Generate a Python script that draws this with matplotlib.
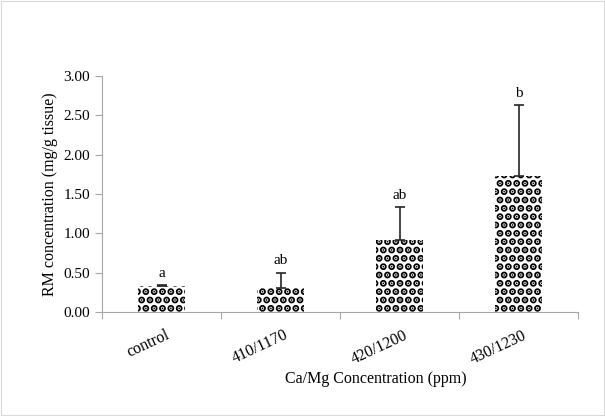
import matplotlib
matplotlib.use("Agg")
import matplotlib.pyplot as plt
from matplotlib.patches import Rectangle

categories = ["control", "410/1170", "420/1200", "430/1230"]
values = [0.33, 0.30, 0.91, 1.73]
errors = [0.01, 0.20, 0.42, 0.90]
letters = ["a", "ab", "ab", "b"]

plt.rcParams['font.family'] = ['Liberation Serif', 'DejaVu Serif']
plt.rcParams['hatch.linewidth'] = 3.6

fig = plt.figure(figsize=(6.05, 4.16), dpi=100)
fig.patches.append(Rectangle((0.002, 0.002), 0.996, 0.996, transform=fig.transFigure,
                             fill=False, edgecolor='#d9d9d9', linewidth=0.8))
ax = fig.add_axes([0.1686, 0.25, 0.7868, 0.567])

x = list(range(len(categories)))
bars = ax.bar(x, values, width=0.40, color='white', edgecolor='black', hatch='..', linewidth=0)
ax.errorbar(x, values, yerr=[[0]*4, errors], fmt='none', ecolor='#262626', elinewidth=1.2,
            capsize=3.8, capthick=1.2)
for xi, v, e, l in zip(x, values, errors, letters):
    ax.text(xi, v + e + 0.07, l, ha='center', va='bottom', fontsize=11)

ax.set_xlim(-0.5, 3.5)
ax.set_ylim(0, 3.0)
ax.set_yticks([0, 0.5, 1.0, 1.5, 2.0, 2.5, 3.0])
ax.set_yticklabels([f"{t:.2f}" for t in [0, 0.5, 1.0, 1.5, 2.0, 2.5, 3.0]], fontsize=11)
ax.set_xticks([-0.5, 0.5, 1.5, 2.5, 3.5])
ax.set_xticklabels([])
ax.set_xticks([xi + 0.03 for xi in x], minor=True)
ax.set_xticklabels(categories, minor=True, rotation=25, ha='right', rotation_mode='anchor', fontsize=11.5)
ax.tick_params(axis='x', which='minor', length=0, pad=11)
ax.tick_params(axis='x', which='major', length=5, color='#a6a6a6', direction='out')
ax.tick_params(axis='y', length=5, color='#a6a6a6', direction='out')
for s in ['top', 'right']:
    ax.spines[s].set_visible(False)
for s in ['left', 'bottom']:
    ax.spines[s].set_color('#a6a6a6')
ax.set_ylabel("RM concentration (mg/g tissue)", fontsize=11.5)
ax.yaxis.set_label_coords(-0.093, 0.5)
ax.set_xlabel("Ca/Mg Concentration (ppm)", fontsize=11.5)
ax.xaxis.set_label_coords(0.576, -0.25)
fig.savefig("out.png", dpi=100)
